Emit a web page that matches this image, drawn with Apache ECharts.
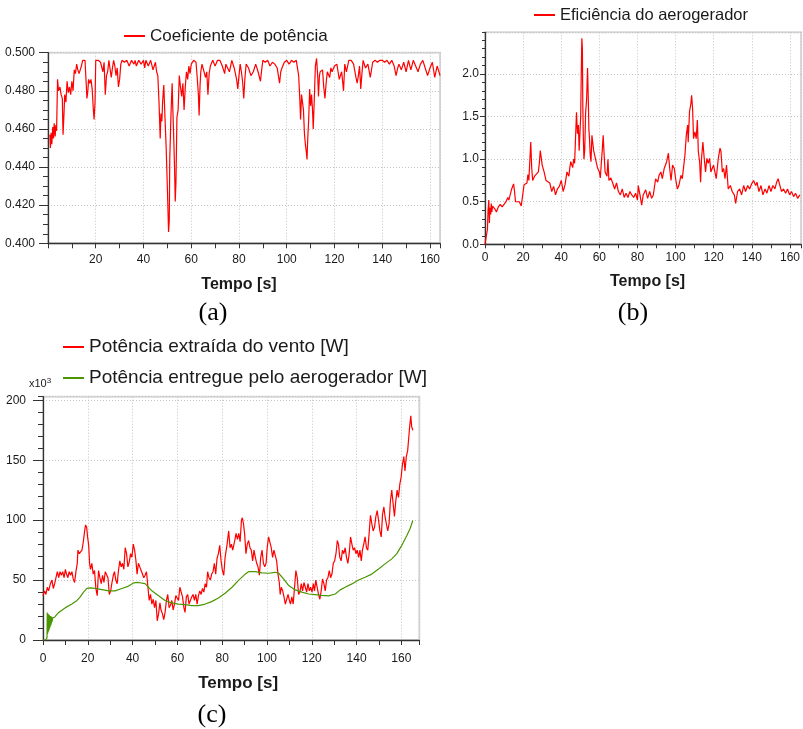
<!DOCTYPE html>
<html>
<head>
<meta charset="utf-8">
<script src="https://cdn.jsdelivr.net/npm/echarts@6/dist/echarts.min.js"></script>
<style>
  html, body { margin: 0; padding: 0; background: #ffffff; }
  #chart { width: 803px; height: 729px; }
</style>
</head>
<body>
<div id="chart"></div>
<script>
// ---- Series data: [tempo (s), valor] ----

// (a) Coeficiente de potência
const cpSamples = [
  [0.8,0.457],[1.0,0.450],[1.3,0.458],[1.6,0.452],[2.0,0.461],[2.3,0.455],[2.6,0.463],[3.0,0.456],[3.3,0.462],[3.6,0.459],
  [4.0,0.486],[4.4,0.480],[5.0,0.482],[5.5,0.478],[6.0,0.476],[6.3,0.457],[6.7,0.468],[7.0,0.478],[7.5,0.474],[8.0,0.485],
  [8.5,0.479],[9.0,0.482],[9.5,0.478],[10.0,0.485],[10.5,0.480],[11.0,0.491],[11.5,0.489],[12.0,0.494],[12.5,0.491],[13.0,0.489],
  [13.5,0.491],[14.0,0.493],[14.5,0.496],[15.0,0.496],[15.5,0.496],[16.0,0.484],[16.3,0.476],[16.7,0.480],[17.0,0.486],[17.5,0.484],
  [18.0,0.486],[18.5,0.481],[19.0,0.470],[19.3,0.465],[19.7,0.474],[20.0,0.496],[20.5,0.496],[21.0,0.496],[22.0,0.495],[22.5,0.496],
  [23.0,0.490],[23.5,0.495],[24.0,0.478],[24.5,0.488],[25.0,0.490],[25.5,0.496],[26.0,0.496],[26.5,0.487],[27.0,0.492],[27.5,0.496],
  [28.0,0.493],[28.5,0.488],[29.0,0.492],[29.5,0.482],[30.0,0.486],[30.5,0.494],[31.0,0.496],[32.0,0.495],[33.0,0.496],[34.0,0.493],
  [35.0,0.496],[36.0,0.494],[36.5,0.496],[37.0,0.493],[38.0,0.496],[39.0,0.494],[40.0,0.496],[40.5,0.492],[41.0,0.496],[42.0,0.493],
  [43.0,0.496],[44.0,0.491],[45.0,0.495],[45.5,0.490],[46.0,0.488],[46.5,0.474],[47.0,0.455],[47.3,0.468],[47.7,0.464],[48.0,0.474],
  [48.5,0.483],[49.0,0.466],[49.5,0.450],[50.0,0.429],[50.5,0.406],[50.8,0.412],[51.0,0.444],[51.5,0.467],[52.0,0.484],[52.3,0.470],
  [52.6,0.458],[53.0,0.440],[53.3,0.422],[53.6,0.432],[54.0,0.466],[54.5,0.470],[55.0,0.488],[55.5,0.482],[56.0,0.477],[56.5,0.484],
  [57.0,0.470],[57.5,0.482],[58.0,0.490],[58.5,0.486],[59.0,0.493],[59.5,0.489],[60.0,0.494],[61.0,0.496],[62.0,0.495],[62.5,0.487],
  [63.0,0.478],[63.3,0.467],[63.7,0.483],[64.0,0.490],[64.5,0.494],[65.0,0.495],[66.0,0.487],[66.5,0.490],[67.0,0.478],[67.5,0.489],
  [68.0,0.493],[69.0,0.496],[70.0,0.493],[71.0,0.496],[72.0,0.496],[73.0,0.493],[74.0,0.489],[74.5,0.494],[75.0,0.495],[76.0,0.490],
  [77.0,0.496],[78.0,0.492],[79.0,0.486],[79.5,0.481],[80.0,0.488],[80.5,0.494],[81.0,0.490],[81.5,0.485],[82.0,0.476],[82.5,0.487],
  [83.0,0.494],[84.0,0.492],[85.0,0.488],[86.0,0.490],[87.0,0.494],[88.0,0.490],[89.0,0.485],[89.5,0.491],[90.0,0.496],[91.0,0.495],
  [92.0,0.496],[93.0,0.493],[94.0,0.495],[95.0,0.494],[96.0,0.492],[97.0,0.484],[97.5,0.490],[98.0,0.492],[99.0,0.495],[100.0,0.496],
  [101.0,0.494],[102.0,0.496],[103.0,0.495],[104.0,0.496],[104.5,0.496],[105.0,0.488],[105.5,0.475],[105.8,0.465],[106.2,0.478],[106.6,0.479],
  [107.0,0.470],[107.4,0.458],[107.8,0.452],[108.2,0.448],[108.5,0.444],[108.8,0.455],[109.2,0.465],[109.6,0.481],[110.0,0.472],[110.4,0.478],
  [110.8,0.470],[111.1,0.460],[111.5,0.474],[112.0,0.493],[112.5,0.497],[113.0,0.487],[113.3,0.477],[113.7,0.488],[114.0,0.490],[115.0,0.491],
  [115.5,0.482],[116.0,0.476],[116.5,0.484],[117.0,0.490],[118.0,0.487],[118.5,0.492],[119.0,0.490],[120.0,0.493],[121.0,0.494],[121.5,0.490],
  [122.0,0.486],[123.0,0.490],[123.8,0.480],[124.3,0.494],[125.0,0.490],[126.0,0.496],[127.0,0.496],[128.0,0.494],[129.0,0.487],[129.5,0.484],
  [130.0,0.488],[130.5,0.493],[131.0,0.481],[131.5,0.489],[132.0,0.496],[133.0,0.492],[134.0,0.494],[135.0,0.487],[136.0,0.495],[137.0,0.496],
  [138.0,0.495],[139.0,0.496],[140.0,0.496],[141.0,0.495],[142.0,0.496],[143.0,0.494],[144.0,0.496],[145.0,0.493],[145.8,0.488],[146.5,0.492],
  [147.0,0.494],[148.0,0.491],[149.0,0.495],[150.0,0.490],[151.0,0.496],[152.0,0.491],[153.0,0.496],[154.0,0.493],[155.0,0.490],[156.0,0.494],
  [157.0,0.496],[158.0,0.492],[159.0,0.488],[160.0,0.492],[161.0,0.495],[162.0,0.487],[163.0,0.493],[164.0,0.489],[164.2,0.488]
];

// (b) Eficiência do aerogerador
const effSamples = [
  [0,0],[1,0],[1.3,0.18],[1.6,0.40],[2,0.52],[2.3,0.25],[2.6,0.43],[3,0.35],[3.3,0.48],[3.6,0.38],
  [4,0.45],[5,0.42],[6,0.38],[7,0.44],[8,0.47],[9,0.44],[10,0.47],[11,0.50],[12,0.55],[12.5,0.52],
  [13,0.53],[14,0.65],[15,0.71],[15.5,0.62],[16,0.50],[17,0.52],[18,0.50],[19,0.45],[20,0.45],[20.5,0.70],
  [21,0.72],[22,0.72],[22.5,0.82],[23,0.75],[24,1.20],[24.5,0.90],[25,0.75],[26,0.80],[27,0.78],[28,0.85],
  [28.5,0.95],[29,1.10],[29.5,1.12],[30,0.93],[31,0.85],[32,0.75],[33,0.77],[34,0.72],[35,0.62],[36,0.68],
  [37,0.58],[38,0.65],[39,0.68],[40,0.75],[41,0.62],[42,0.70],[43,0.85],[44,0.80],[44.5,0.90],[45,0.97],
  [46,0.90],[46.5,1.00],[47,0.95],[47.5,1.25],[48,1.55],[48.5,1.30],[49,1.40],[49.4,1.10],[49.8,1.08],[50.2,1.50],
  [50.5,2.00],[50.8,2.42],[51.1,2.30],[51.3,1.65],[51.6,1.25],[51.9,1.00],[52.3,1.10],[52.8,1.55],[53.3,1.70],[53.8,2.07],
  [54.2,1.70],[54.5,1.35],[54.8,1.25],[55.2,1.05],[55.6,0.97],[56.1,1.28],[57,1.10],[57.5,1.05],[58,1.00],[59,0.90],
  [60,0.85],[60.5,0.78],[61,0.95],[61.5,1.10],[62,1.28],[62.5,1.05],[63,0.85],[64,0.80],[64.5,1.00],[65,0.75],
  [66,0.78],[67,0.72],[68,0.65],[69,0.72],[70,0.62],[71,0.58],[72,0.65],[73,0.55],[74,0.60],[75,0.55],
  [76,0.62],[77,0.58],[78,0.55],[79,0.60],[80,0.52],[80.4,0.69],[81.3,0.58],[82.2,0.46],[83,0.58],[84.3,0.64],
  [85.3,0.54],[86.4,0.62],[87.4,0.54],[88.3,0.58],[89.5,0.77],[90.6,0.73],[91.3,0.81],[92.3,0.85],[93,0.77],[94,0.89],
  [95.3,0.97],[96.2,1.07],[96.9,0.89],[97.6,0.75],[98.4,0.93],[99.3,0.89],[100,0.77],[100.9,0.65],[101.7,0.69],[102.8,0.81],
  [103.5,0.77],[104.2,0.75],[104.9,1.05],[105.6,1.28],[106.3,1.40],[106.6,1.20],[107.3,1.56],[108,1.65],[108.4,1.75],[108.9,1.60],
  [109.4,1.24],[110.1,1.32],[110.8,1.24],[111.4,1.46],[111.9,1.09],[112.6,0.97],[113.1,0.73],[113.6,1.01],[114.3,1.20],[115,1.01],
  [115.7,0.85],[116.4,1.01],[117.1,0.95],[117.8,1.01],[118.5,0.85],[119.2,0.89],[119.9,0.93],[120.6,0.85],[121.3,0.77],[122.4,1.01],
  [123.3,1.13],[123.8,1.09],[124.5,0.85],[125.2,0.89],[125.9,0.77],[126.7,0.93],[127.6,0.65],[128.7,0.69],[129.7,0.62],[130.8,0.58],
  [131.5,0.48],[132.5,0.62],[133.6,0.65],[134.6,0.58],[135.7,0.69],[136.7,0.62],[137.8,0.69],[138.8,0.65],[139.9,0.71],[140.9,0.75],
  [142,0.69],[142.7,0.73],[143.7,0.62],[144.8,0.69],[145.8,0.58],[146.9,0.65],[147.9,0.60],[149,0.69],[150,0.62],[151,0.69],
  [152.1,0.65],[153,0.73],[153.8,0.77],[154.7,0.69],[155.6,0.62],[156.6,0.65],[157.7,0.60],[158.7,0.65],[159.8,0.58],[160.8,0.62],
  [161.9,0.56],[162.9,0.60],[164,0.54],[165.2,0.58]
];

// (c) Potência extraída do vento [W] (x10^3)
const windPower = [
  [0,37],[0.7,41],[1.3,38],[1.9,44],[2.5,41],[3.3,47],[4,50],[4.6,43],[5.2,47],[5.8,48],
  [6.4,57],[7,52],[7.6,57],[8.2,54],[8.8,57],[9.4,52],[10,59],[10.5,55],[11.1,52],[11.7,57],
  [12.3,54],[12.9,57],[13.5,51],[14.1,48],[14.7,57],[15.3,64],[15.6,75],[16.2,72],[16.8,73],[17.4,75],
  [18,82],[18.6,91],[19,96],[19.5,94],[19.9,86],[20.4,79],[20.8,64],[21.2,59],[21.8,64],[22.4,55],
  [23,58],[23.6,43],[24.2,37],[24.8,58],[25.4,52],[26,47],[26.6,54],[27.2,48],[27.8,57],[28.4,58],
  [29,52],[29.6,38],[30.2,41],[30.8,48],[31.4,54],[31.9,57],[32.5,50],[33.1,47],[33.7,58],[34.3,66],
  [34.9,61],[35.5,64],[36.1,59],[36.7,77],[37.3,72],[37.9,61],[38.5,65],[39.1,72],[39.7,69],[40.3,80],
  [40.9,75],[41.5,66],[42,55],[42.6,64],[43.2,61],[43.8,58],[44.4,55],[45,52],[45.6,54],[46.2,57],
  [46.8,45],[47.4,33],[48,38],[48.6,30],[49.2,34],[49.8,27],[50.4,33],[51,16],[51.6,22],[52.2,31],
  [52.7,25],[53.3,22],[53.9,17],[54.5,23],[55.1,33],[55.7,38],[56.3,27],[56.9,29],[57.5,33],[58.1,25],
  [58.7,30],[59.3,37],[59.9,36],[60.5,33],[61.1,44],[61.7,45],[62.3,36],[62.9,27],[63.4,23],[64,36],
  [64.6,38],[65.2,30],[65.8,29],[66.4,36],[67,38],[67.6,33],[68.2,38],[68.8,30],[69.4,37],[70,41],
  [70.6,38],[71.2,43],[71.8,40],[72.4,47],[73,44],[73.5,57],[74.1,52],[74.7,50],[75.3,55],[75.9,57],
  [76.5,64],[77.1,55],[77.7,68],[78.3,72],[78.9,79],[79.5,66],[80.1,58],[80.7,54],[81.3,69],[82.2,80],
  [82.9,91],[83.5,77],[84.1,80],[84.7,75],[85.6,83],[86.2,89],[86.8,84],[87.4,89],[88,82],[88.6,100],
  [89,102],[89.5,97],[90,89],[90.6,72],[91.2,80],[91.8,83],[92.4,77],[93,75],[93.6,66],[94.2,75],
  [94.8,69],[95.4,64],[96,61],[96.6,54],[97.2,69],[97.8,75],[98.4,64],[99,61],[99.6,64],[100.1,77],
  [100.7,86],[101.3,87],[101.9,77],[102.5,69],[103.1,75],[103.7,76],[104.3,66],[104.9,55],[105.5,48],[105.9,38],
  [106.4,44],[107,41],[107.6,36],[108.2,30],[108.8,34],[109.4,38],[110,33],[110.5,30],[111.1,36],[111.7,30],
  [112.3,44],[112.9,58],[113.5,52],[114.1,38],[114.7,40],[115.3,47],[115.9,41],[116.5,48],[117.1,44],[117.7,40],
  [118.3,47],[118.9,41],[119.5,44],[120.1,40],[120.7,47],[121.2,41],[121.8,50],[122.4,44],[123,38],[123.6,34],
  [124.2,41],[124.8,51],[125.4,47],[126,41],[126.6,50],[127.2,52],[127.8,58],[128.4,52],[129,55],[129.6,64],
  [130.2,66],[130.8,72],[131.4,83],[131.9,80],[132.5,69],[133.1,66],[133.7,75],[134.3,72],[134.9,77],[135.5,69],
  [136.1,64],[136.7,72],[137.3,86],[137.9,80],[138.5,75],[139.1,77],[139.7,72],[140.3,75],[140.9,69],[141.5,75],
  [142.1,66],[142.6,75],[143.2,80],[143.8,86],[144.4,77],[145,75],[145.6,89],[146.2,104],[146.8,97],[147.4,91],
  [148,94],[148.6,103],[149.2,108],[149.8,100],[150.4,91],[151,86],[151.6,105],[152.2,111],[152.7,103],[153.3,97],
  [153.9,91],[154.5,97],[155.1,116],[155.7,125],[156.3,114],[156.9,103],[157.5,116],[158.1,125],[158.7,119],[159.3,130],
  [159.9,136],[160.5,147],[161.1,153],[161.6,141],[162.2,153],[162.8,158],[163.3,169],[163.7,178],[164.2,187],[164.6,178],
  [165.1,175]
];

// (c) Potência entregue pelo aerogerador [W] (x10^3)
const deliveredPower = [
  [0,0],[1.2,0],[1.6,1],[1.8,2],[1.9,23],[2.0,5],[2.1,22],[2.2,6],[2.3,22],[2.4,7],
  [2.5,21],[2.6,8],[2.7,21],[2.8,9],[2.9,20.5],[3.0,10],[3.1,20],[3.2,11],[3.3,20],[3.4,12],
  [3.5,19.5],[3.6,13],[3.7,19.5],[3.8,14],[3.9,19],[4.0,15],[4.1,19],[4.2,16],[4.3,18.5],[4.5,17],
  [5.2,19],[7,23],[10,27],[12.9,30],
  [15.2,33],[16.6,36],[18.1,40],[19.6,43],[21.1,43.5],[23.3,43],[26.3,42],[29.3,41],[32.2,41],[35.2,43],
  [38.2,45],[40.4,47.6],[42.6,48],[45.6,47],[48.6,41],[51.6,37],[54.5,33],[57.5,31],[60.5,30],[63.4,29.5],
  [66.4,28.7],[69.4,28.7],[72.4,30],[75.3,32],[78.3,35],[81.3,39],[84.4,44],[87.4,50],[90.3,55],[91.8,57],
  [94.8,57],[97.8,56],[100.7,55.7],[103.7,56.5],[105.2,55.7],[107.4,51],[109.7,45.4],[112.6,41.8],[115.6,40],[118.6,38.4],
  [121.5,37.9],[124.5,37.3],[127.5,36.8],[130.5,38.4],[132.7,41.8],[134.9,44],[137.9,46.8],[140.9,50],[143.8,52.4],[146.8,55],
  [149.8,59.3],[152.7,63.5],[155.7,67.7],[157.9,71.9],[160.2,79],[162.4,87],[163.9,93],[165.1,99.7]
];

// Axis captions and labels
const panelCaptions = ['(a)', '(b)', '(c)'];
const timeAxisTitle = 'Tempo [s]';
const seriesNames = [
  'Coeficiente de potência',
  'Eficiência do aerogerador',
  'Potência extraída do vento [W]',
  'Potência entregue pelo aerogerador [W]'
];

// ---- Styling / layout ----
const FONT = 'Liberation Sans';
const INK = '#1a1a1a';
const AXIS = '#333333';
const RED = '#ff0000';
const GREEN = '#4a9600';

const panels = [
  { grid: { left: 48, top: 52.7, width: 392, height: 190.6 },
    x: { max: 164.2, labelMargin: 10, nameGap: 33, namePad: [0, 10, 0, 0], nameSize: 16, showMin: false, tickLen: 5 },
    y: { min: 0.4, max: 0.5, interval: 0.02, minor: 0.005, digits: 3, majorLen: 9, minorLen: 5, margin: 13, showMax: true } },
  { grid: { left: 485, top: 32.3, width: 317.7, height: 212 },
    x: { max: 165.8, labelMargin: 7, nameGap: 29, namePad: [0, 0, 0, 9], nameSize: 16, showMin: true, tickLen: 4 },
    y: { min: 0, max: 2.49, interval: 0.5, minor: 0.1, digits: 1, majorLen: 5, minorLen: 3, margin: 6, showMax: false } },
  { grid: { left: 43, top: 396.7, width: 376.3, height: 243.3 },
    x: { max: 168, labelMargin: 13, nameGap: 35, namePad: [0, 0, 0, 14], nameSize: 17, showMin: true, tickLen: 5 },
    y: { min: 0, max: 203, interval: 50, minor: 10, digits: 0, majorLen: 10, minorLen: 5, margin: 17, showMax: false } }
];

const grids = [], xAxes = [], yAxes = [];
panels.forEach((p, i) => {
  grids.push(Object.assign({ show: true, borderColor: '#d8d8d8', borderWidth: 2, backgroundColor: 'transparent' }, p.grid));
  // main time axis: labels, grid lines, title
  xAxes.push({
    gridIndex: i, type: 'value', position: 'bottom', min: 0, max: p.x.max, interval: 20,
    name: timeAxisTitle, nameLocation: 'middle', nameGap: p.x.nameGap,
    nameTextStyle: { fontFamily: FONT, fontSize: p.x.nameSize, fontWeight: 'bold', color: INK, padding: p.x.namePad },
    axisLine: { show: true, onZero: false, lineStyle: { color: AXIS, width: 1.3 } },
    axisTick: { show: false },
    axisLabel: { fontFamily: FONT, fontSize: 12, color: INK, margin: p.x.labelMargin,
                 showMinLabel: p.x.showMin, showMaxLabel: false },
    splitLine: { show: true, lineStyle: { color: '#c4c4c4', type: [1, 2], width: 1 } }
  });
  // tick marks every 10 s
  xAxes.push({
    gridIndex: i, type: 'value', position: 'bottom', min: 0, max: p.x.max, interval: 10,
    axisLine: { show: false, onZero: false },
    axisTick: { show: true, length: p.x.tickLen, lineStyle: { color: AXIS, width: 1 } },
    axisLabel: { show: false }, splitLine: { show: false }
  });
  yAxes.push({
    gridIndex: i, type: 'value', position: 'left', min: p.y.min, max: p.y.max, interval: p.y.interval,
    axisLine: { show: true, onZero: false, lineStyle: { color: AXIS, width: 1.3 } },
    axisTick: { show: true, length: p.y.majorLen, lineStyle: { color: AXIS, width: 1 } },
    axisLabel: { fontFamily: FONT, fontSize: 12, color: INK, margin: p.y.margin, showMaxLabel: p.y.showMax,
                 formatter: v => v.toFixed(p.y.digits) },
    splitLine: { show: true, lineStyle: { color: '#c4c4c4', type: [1, 2], width: 1 } }
  });
  yAxes.push({
    gridIndex: i, type: 'value', position: 'left', min: p.y.min, max: p.y.max, interval: p.y.minor,
    axisLine: { show: false, onZero: false },
    axisTick: { show: true, length: p.y.minorLen, lineStyle: { color: AXIS, width: 1 } },
    axisLabel: { show: false }, splitLine: { show: false }
  });
});

function lineSeries(name, data, color, axisIdx) {
  return {
    type: 'line', name: name, data: data,
    xAxisIndex: axisIdx * 2, yAxisIndex: axisIdx * 2,
    showSymbol: false, symbol: 'none', smooth: false,
    lineStyle: { color: color, width: 1.2 }, itemStyle: { color: color },
    emphasis: { disabled: true }, animation: false
  };
}

const legendBase = {
  icon: 'rect', itemWidth: 21, itemHeight: 2, padding: 0, selectedMode: false
};

const option = {
  animation: false,
  backgroundColor: '#ffffff',
  grid: grids,
  xAxis: xAxes,
  yAxis: yAxes,
  legend: [
    Object.assign({}, legendBase, { data: [seriesNames[0]], left: 124, top: 27,
      textStyle: { fontFamily: FONT, fontSize: 17, color: INK, lineHeight: 18 } }),
    Object.assign({}, legendBase, { data: [seriesNames[1]], left: 534, top: 6,
      textStyle: { fontFamily: FONT, fontSize: 16.5, color: INK, lineHeight: 18 } }),
    Object.assign({}, legendBase, { data: [seriesNames[2], seriesNames[3]], orient: 'vertical',
      left: 63, top: 337, itemGap: 11,
      textStyle: { fontFamily: FONT, fontSize: 19, color: INK, lineHeight: 20 } })
  ],
  graphic: [
    { type: 'text', left: 29, top: 377,
      style: { text: 'x10{s|3}', fontFamily: FONT, fontSize: 11, fill: INK,
               rich: { s: { fontSize: 8, verticalAlign: 'top', padding: [0, 0, 6, 0] } } } },
    { type: 'text', x: 213, y: 313, style: { text: panelCaptions[0], fontFamily: 'Liberation Serif', fontSize: 26, fill: '#000', align: 'center', verticalAlign: 'middle' } },
    { type: 'text', x: 633, y: 313, style: { text: panelCaptions[1], fontFamily: 'Liberation Serif', fontSize: 26, fill: '#000', align: 'center', verticalAlign: 'middle' } },
    { type: 'text', x: 212, y: 715, style: { text: panelCaptions[2], fontFamily: 'Liberation Serif', fontSize: 26, fill: '#000', align: 'center', verticalAlign: 'middle' } }
  ],
  series: [
    lineSeries(seriesNames[0], cpSamples, RED, 0),
    lineSeries(seriesNames[1], effSamples, RED, 1),
    lineSeries(seriesNames[2], windPower, RED, 2),
    lineSeries(seriesNames[3], deliveredPower, GREEN, 2)
  ]
};

const chart = echarts.init(document.getElementById('chart'), null, { renderer: 'canvas' });
chart.setOption(option);
</script>
</body>
</html>
